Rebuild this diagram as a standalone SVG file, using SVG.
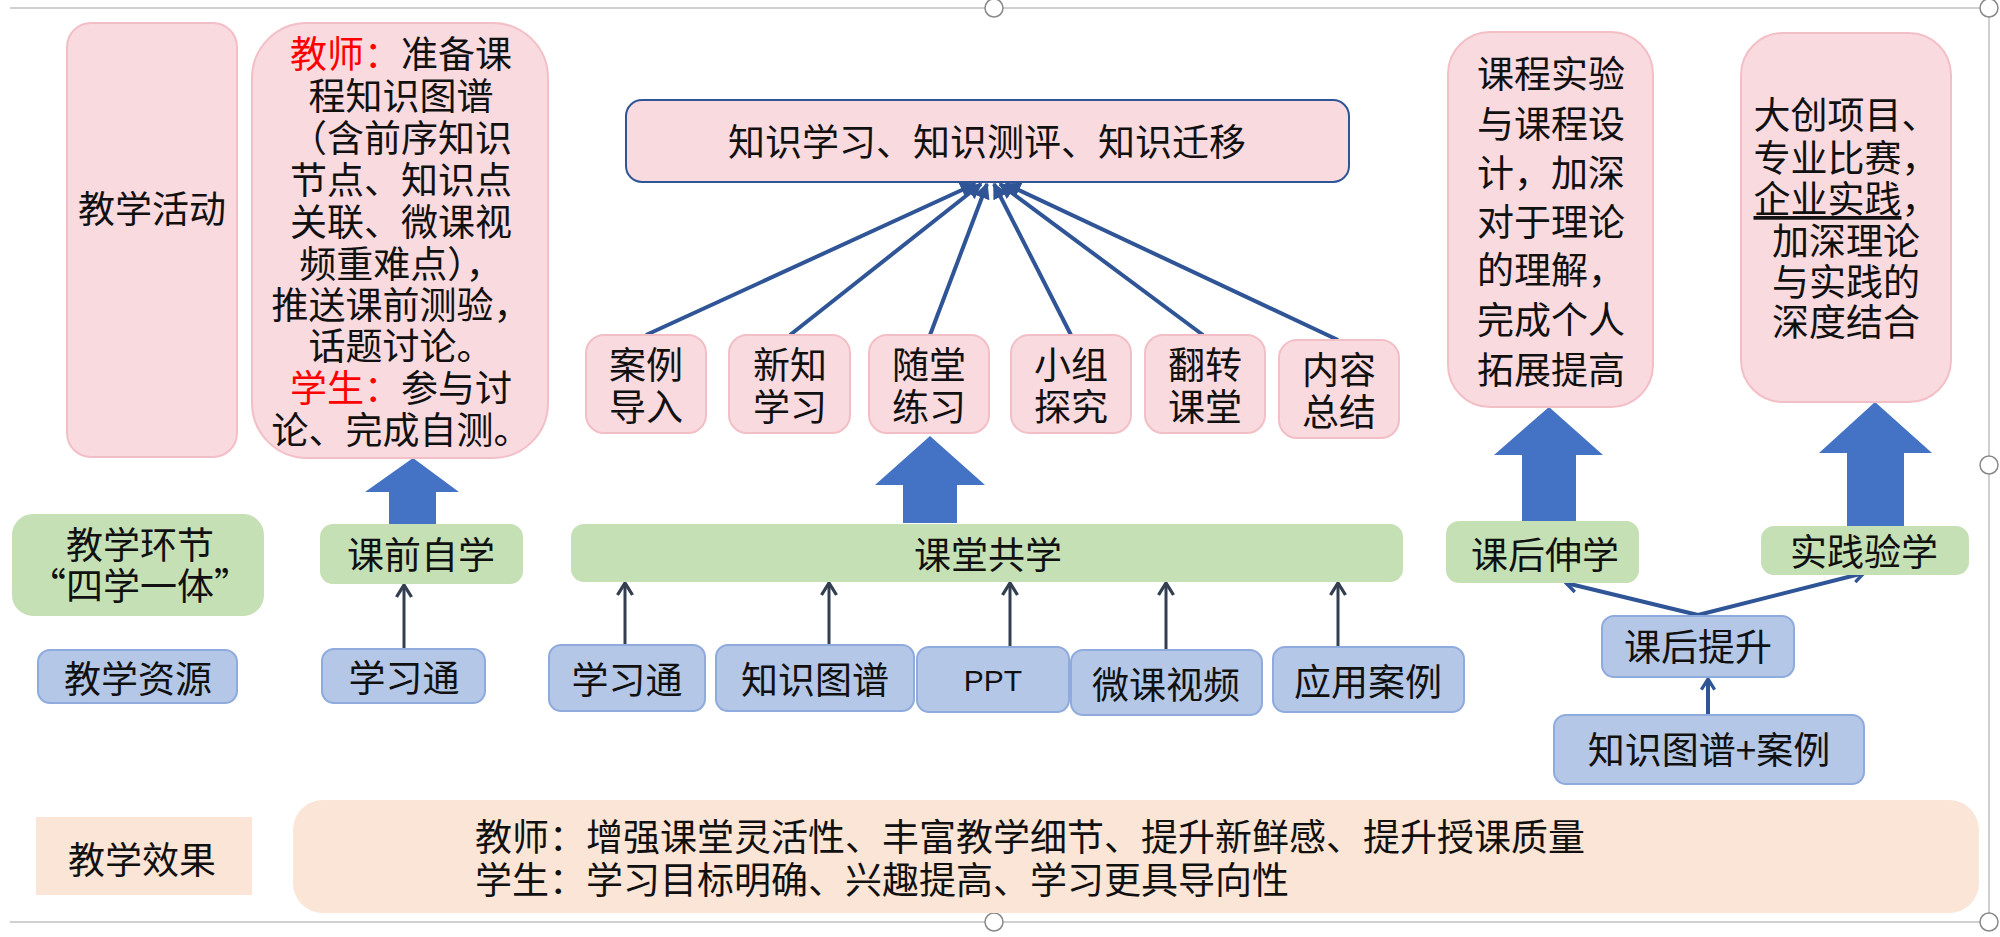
<svg xmlns="http://www.w3.org/2000/svg" width="2000" height="937" viewBox="0 0 2000 937">
<defs>
<style>
.t{font-family:"Noto Sans CJK SC","Noto Sans",sans-serif;font-size:37px;fill:#111;dominant-baseline:central}
.c{text-anchor:middle}
.pink{fill:#F9DADF;stroke:#F3BFC7;stroke-width:2}
.green{fill:#C5E0B4;stroke:#C5E0B4;stroke-width:2}
.blue{fill:#B4C7E7;stroke:#8FAADC;stroke-width:2}
.peach{fill:#FBE5D6;stroke:none}
.red{fill:#FF0000}
.fan{stroke:#2F5597;stroke-width:4;fill:none}
.thin{stroke:#333F50;stroke-width:3;fill:none}
.blk{fill:#4472C4}
.frame{stroke:#D0D0D0;stroke-width:2;fill:none}
.handle{fill:#fff;stroke:#888;stroke-width:1.5}
</style>
<marker id="tri" viewBox="0 0 10 10" refX="9" refY="5" markerWidth="4" markerHeight="4" orient="auto" markerUnits="strokeWidth">
<path d="M0,0 L10,5 L0,10 z" fill="#2F5597"/>
</marker>
<marker id="vb" viewBox="0 0 12 12" refX="10" refY="6" markerWidth="16" markerHeight="16" orient="auto" markerUnits="userSpaceOnUse">
<path d="M2,1 L10,6 L2,11" fill="none" stroke="#2F5597" stroke-width="2.5"/>
</marker>
<marker id="vg" viewBox="0 0 12 12" refX="10" refY="6" markerWidth="18" markerHeight="18" orient="auto" markerUnits="userSpaceOnUse">
<path d="M2,1 L10,6 L2,11" fill="none" stroke="#333F50" stroke-width="2.2"/>
</marker>
</defs>
<rect width="2000" height="937" fill="#fff"/>

<g id="frame">
<line class="frame" x1="10" y1="8" x2="1989" y2="8"/>
<line class="frame" x1="10" y1="922" x2="1989" y2="922"/>
<line class="frame" x1="1989" y1="8" x2="1989" y2="922"/>
<circle class="handle" cx="994" cy="8" r="9"/>
<circle class="handle" cx="1989" cy="8" r="9"/>
<circle class="handle" cx="1989" cy="465" r="9"/>
<circle class="handle" cx="994" cy="922" r="9"/>
<circle class="handle" cx="1989" cy="922" r="9"/>
</g>

<g id="connectors">
<line class="fan" x1="646" y1="335" x2="975" y2="184" marker-end="url(#tri)"/>
<line class="fan" x1="790" y1="335" x2="981" y2="184" marker-end="url(#tri)"/>
<line class="fan" x1="930" y1="335" x2="987" y2="184" marker-end="url(#tri)"/>
<line class="fan" x1="1071" y1="335" x2="994" y2="184" marker-end="url(#tri)"/>
<line class="fan" x1="1203" y1="335" x2="1000" y2="184" marker-end="url(#tri)"/>
<line class="fan" x1="1338" y1="340" x2="1006" y2="184" marker-end="url(#tri)"/>
<line class="thin" x1="404" y1="650" x2="404" y2="585" marker-end="url(#vg)"/>
<line class="thin" x1="625" y1="645" x2="625" y2="583" marker-end="url(#vg)"/>
<line class="thin" x1="829" y1="645" x2="829" y2="583" marker-end="url(#vg)"/>
<line class="thin" x1="1010" y1="647" x2="1010" y2="583" marker-end="url(#vg)"/>
<line class="thin" x1="1166" y1="650" x2="1166" y2="583" marker-end="url(#vg)"/>
<line class="thin" x1="1338" y1="647" x2="1338" y2="583" marker-end="url(#vg)"/>
<line class="fan" x1="1698" y1="615" x2="1566" y2="583" marker-end="url(#vb)"/>
<line class="fan" x1="1698" y1="615" x2="1864" y2="573" marker-end="url(#vb)"/>
<line class="fan" x1="1708" y1="715" x2="1708" y2="679" marker-end="url(#vb)"/>
<polygon class="blk" points="413,458 459,492 436,492 436,525 389,525 389,492 365,492"/>
<polygon class="blk" points="930,436 985,485 957,485 957,523 903,523 903,485 875,485"/>
<polygon class="blk" points="1549,407 1603,455 1576,455 1576,522 1522,522 1522,455 1494,455"/>
<polygon class="blk" points="1875,402 1932,453 1904,453 1904,527 1847,527 1847,453 1819,453"/>
</g>

<g id="n-huodong">
<rect class="pink" x="67" y="23" width="170" height="434" rx="24"/>
<text class="t c" x="152" y="207">教学活动</text>
</g>

<g id="n-teacher">
<rect class="pink" x="252" y="23" width="296" height="435" rx="55"/>
<text class="t c" x="401" y="52"><tspan class="red">教师：</tspan>准备课<tspan x="401" dy="42">程知识图谱</tspan><tspan x="401" dy="42">（含前序知识</tspan><tspan x="401" dy="42">节点、知识点</tspan><tspan x="401" dy="42">关联、微课视</tspan><tspan x="401" dy="42">频重难点），</tspan><tspan x="401" dy="41">推送课前测验，</tspan><tspan x="401" dy="41">话题讨论。</tspan><tspan x="401" dy="42" class="red">学生：</tspan>参与讨<tspan x="401" dy="42">论、完成自测。</tspan></text>
</g>

<g id="n-zhishi">
<rect x="626" y="100" width="723" height="82" rx="16" fill="#F9DADF" stroke="#2F5597" stroke-width="2"/>
<text class="t c" x="987" y="140">知识学习、知识测评、知识迁移</text>
</g>

<g id="n-anli">
<rect class="pink" x="586" y="335" width="120" height="98" rx="18"/>
<text class="t c" x="646" y="363">案例<tspan x="646" dy="42">导入</tspan></text>
</g>
<g id="n-xinzhi">
<rect class="pink" x="729" y="335" width="121" height="98" rx="18"/>
<text class="t c" x="790" y="363">新知<tspan x="790" dy="42">学习</tspan></text>
</g>
<g id="n-suitang">
<rect class="pink" x="869" y="335" width="120" height="98" rx="18"/>
<text class="t c" x="929" y="363">随堂<tspan x="929" dy="42">练习</tspan></text>
</g>
<g id="n-xiaozu">
<rect class="pink" x="1011" y="335" width="120" height="98" rx="18"/>
<text class="t c" x="1071" y="363">小组<tspan x="1071" dy="42">探究</tspan></text>
</g>
<g id="n-fanzhuan">
<rect class="pink" x="1145" y="335" width="120" height="98" rx="18"/>
<text class="t c" x="1205" y="363">翻转<tspan x="1205" dy="42">课堂</tspan></text>
</g>
<g id="n-neirong">
<rect class="pink" x="1279" y="340" width="120" height="98" rx="18"/>
<text class="t c" x="1339" y="368">内容<tspan x="1339" dy="42">总结</tspan></text>
</g>

<g id="n-kecheng">
<rect class="pink" x="1448" y="32" width="205" height="375" rx="42"/>
<text class="t c" x="1551" y="72">课程实验<tspan x="1551" dy="50">与课程设</tspan><tspan x="1551" dy="49">计，加深</tspan><tspan x="1551" dy="49">对于理论</tspan><tspan x="1551" dy="48">的理解，</tspan><tspan x="1551" dy="50">完成个人</tspan><tspan x="1551" dy="50">拓展提高</tspan></text>
</g>

<g id="n-dachuang">
<rect class="pink" x="1741" y="33" width="210" height="369" rx="42"/>
<text class="t c" x="1846" y="113">大创项目、<tspan x="1846" dy="43">专业比赛，</tspan><tspan x="1846" dy="41"><tspan text-decoration="underline">企业实践</tspan>，</tspan><tspan x="1846" dy="42">加深理论</tspan><tspan x="1846" dy="41">与实践的</tspan><tspan x="1846" dy="40">深度结合</tspan></text>
</g>

<g id="n-huanjie">
<rect class="green" x="13" y="515" width="250" height="100" rx="20"/>
<text class="t c" x="140" y="543">教学环节<tspan x="140" dy="41">“四学一体”</tspan></text>
</g>
<g id="n-kqzx">
<rect class="green" x="321" y="525" width="201" height="58" rx="12"/>
<text class="t c" x="421" y="553">课前自学</text>
</g>
<g id="n-ktgx">
<rect class="green" x="572" y="525" width="830" height="56" rx="12"/>
<text class="t c" x="988" y="553">课堂共学</text>
</g>
<g id="n-khsx">
<rect class="green" x="1447" y="522" width="191" height="60" rx="12"/>
<text class="t c" x="1545" y="553">课后伸学</text>
</g>
<g id="n-sjyx">
<rect class="green" x="1762" y="527" width="206" height="47" rx="12"/>
<text class="t c" x="1864" y="550">实践验学</text>
</g>

<g id="n-ziyuan">
<rect class="blue" x="38" y="650" width="199" height="53" rx="12"/>
<text class="t c" x="138" y="677">教学资源</text>
</g>
<g id="n-xxt1">
<rect class="blue" x="322" y="649" width="163" height="54" rx="12"/>
<text class="t c" x="404" y="676">学习通</text>
</g>
<g id="n-xxt2">
<rect class="blue" x="549" y="645" width="156" height="66" rx="12"/>
<text class="t c" x="627" y="678">学习通</text>
</g>
<g id="n-tupu">
<rect class="blue" x="716" y="645" width="198" height="66" rx="12"/>
<text class="t c" x="815" y="678">知识图谱</text>
</g>
<g id="n-ppt">
<rect class="blue" x="917" y="647" width="152" height="65" rx="12"/>
<text x="993" y="680" text-anchor="middle" dominant-baseline="central" font-family="Liberation Sans, Arial, sans-serif" font-size="30" fill="#111">PPT</text>
</g>
<g id="n-weike">
<rect class="blue" x="1071" y="650" width="191" height="65" rx="12"/>
<text class="t c" x="1166" y="683">微课视频</text>
</g>
<g id="n-yingyong">
<rect class="blue" x="1273" y="647" width="191" height="65" rx="12"/>
<text class="t c" x="1368" y="680">应用案例</text>
</g>
<g id="n-tisheng">
<rect class="blue" x="1602" y="616" width="192" height="61" rx="12"/>
<text class="t c" x="1698" y="645">课后提升</text>
</g>
<g id="n-tupuanli">
<rect class="blue" x="1554" y="715" width="310" height="69" rx="12"/>
<text class="t c" x="1709" y="748">知识图谱+案例</text>
</g>

<g id="n-xiaoguo">
<rect class="peach" x="36" y="817" width="216" height="78"/>
<text class="t c" x="142" y="858">教学效果</text>
</g>
<g id="n-xiaoguo-text">
<rect class="peach" x="293" y="800" width="1686" height="113" rx="30"/>
<text class="t" x="475" y="835">教师：增强课堂灵活性、丰富教学细节、提升新鲜感、提升授课质量<tspan x="475" dy="43">学生：学习目标明确、兴趣提高、学习更具导向性</tspan></text>
</g>
</svg>
